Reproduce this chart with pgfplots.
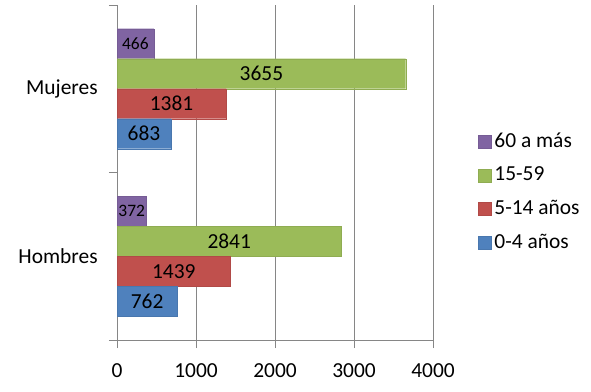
\documentclass[border=0pt]{standalone}
\usepackage{pgfplots}
\pgfplotsset{compat=1.18}
\usepackage{fontspec}
\setmainfont{Carlito}
\definecolor{cPur}{HTML}{8064A2}
\definecolor{cGre}{HTML}{9BBB59}
\definecolor{cRed}{HTML}{C0504D}
\definecolor{cBlu}{HTML}{4F81BD}
\definecolor{axgray}{HTML}{868686}
\begin{document}
\fontsize{21.5}{25}\selectfont
\begin{tikzpicture}
\useasboundingbox (0,0) rectangle (591bp,392bp);
\begin{axis}[
  at={(117bp,52bp)}, anchor=south west,
  scale only axis, width=316bp, height=335bp,
  xbar, bar width=30bp,
  xmin=0, xmax=4000, ymin=-0.5, ymax=1.5,
  xtick={0,1000,2000,3000,4000},
  xmajorgrids, grid style={axgray, line width=0.8bp},
  axis x line*=bottom, axis y line*=left,
  axis line style={axgray, line width=0.8bp},
  every outer x axis line/.append style={-},
  every outer y axis line/.append style={-},
  x tick style={axgray, line width=0.8bp},
  major tick length=8bp, tick align=outside,
  xticklabel style={font=\fontsize{21.5}{25}\selectfont, yshift=-8bp},
  /pgf/number format/assume math mode=true,
  /pgf/number format/1000 sep={},
  ytick={0,1}, yticklabels={Hombres,Mujeres},
  y tick style={draw=none},
  yticklabel style={font=\fontsize{21.5}{25}\selectfont, xshift=-4bp},
  extra y ticks={-0.5,0.5,1.5}, extra y tick labels={},
  extra y tick style={y tick style={draw=axgray, line width=0.8bp}},
  nodes near coords,
  visualization depends on={rawx\as\rawx},
  every node near coord/.append style={anchor=center, black,
     font=\fontsize{21.5}{25}\selectfont, xshift={-0.0395bp*\rawx}},
  legend style={at={(1.142,0.619)}, anchor=north west, draw=none, fill=none,
     font=\fontsize{21.5}{25}\selectfont, row sep=16.3bp, inner sep=0pt,
     nodes={inner xsep=3bp, inner ysep=0pt}},
  legend cell align=left,
  legend image code/.code={\fill[#1] (0bp,-6.5bp) rectangle (13bp,6.5bp);},
]
\addplot[fill=cPur, draw=cPur!92!black, bar shift=45bp,
  every node near coord/.append style={font=\fontsize{17.5}{20}\selectfont}]
  coordinates {(372,0) (466,1)};
\addplot[fill=cGre, draw=cGre!92!black, bar shift=15bp] coordinates {(2841,0) (3655,1)};
\addplot[fill=cRed, draw=cRed!92!black, bar shift=-15bp] coordinates {(1439,0) (1381,1)};
\addplot[fill=cBlu, draw=cBlu!92!black, bar shift=-45bp] coordinates {(762,0) (683,1)};
\legend{60 a más,15-59,5-14 años,0-4 años}
\end{axis}
\end{tikzpicture}
\end{document}
